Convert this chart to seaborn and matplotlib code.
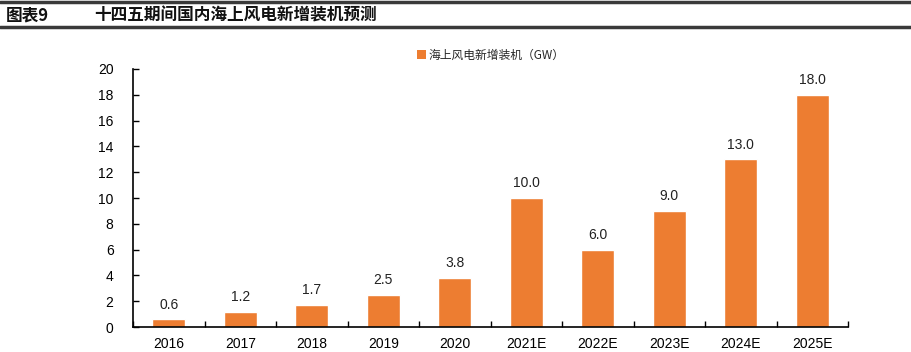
import matplotlib
matplotlib.use("Agg")
import matplotlib.pyplot as plt
from matplotlib.lines import Line2D
from matplotlib.patches import Patch
import seaborn as sns
import pandas as pd
import numpy as np

years = ["2016", "2017", "2018", "2019", "2020", "2021E", "2022E", "2023E", "2024E", "2025E"]
values = [0.6, 1.2, 1.7, 2.5, 3.8, 10.0, 6.0, 9.0, 13.0, 18.0]
labels = ["0.6", "1.2", "1.7", "2.5", "3.8", "10.0", "6.0", "9.0", "13.0", "18.0"]
series_name = "海上风电新增装机（GW）"
title_left = "图表9"
title_right = "十四五期间国内海上风电新增装机预测"

sns.set_theme(style="white")
plt.rcParams['font.family'] = ['Noto Sans CJK SC', 'DejaVu Sans']

df = pd.DataFrame({"year": years, "value": values})
color = "#ED7D31"

fig = plt.figure(figsize=(9.11, 3.52), dpi=100)
ax = fig.add_axes([0.146, 0.071, 0.785, 0.733])
sns.barplot(data=df, x="year", y="value", color=color, width=0.46, ax=ax, saturation=1)

ax.set_ylim(0, 20)
ax.set_xlim(-0.5, len(years) - 0.5)
ax.set_yticks(range(0, 21, 2))
ax.set_xlabel("")
ax.set_ylabel("")
for s in ["top", "right"]:
    ax.spines[s].set_visible(False)
for s in ["left", "bottom"]:
    ax.spines[s].set_color("black")
    ax.spines[s].set_linewidth(1.2)
ax.tick_params(axis="y", left=True, direction="in", length=4, width=1, colors="black", labelsize=10, pad=14)
ax.tick_params(axis="x", which="major", bottom=True, length=0, labelsize=10, pad=7, colors="black")
ax.set_xticks(np.arange(-0.5, len(years), 1.0), minor=True)
ax.tick_params(axis="x", which="minor", bottom=True, direction="in", length=4, width=1, colors="black")
for lab in ax.get_xticklabels() + ax.get_yticklabels():
    lab.set_fontfamily(["Liberation Sans", "DejaVu Sans"])

for i, (v, t) in enumerate(zip(values, labels)):
    ax.text(i, v + 0.6, t, ha="center", va="bottom", fontsize=10, color="#222222",
            fontfamily=["Liberation Sans", "DejaVu Sans"])

handle = Patch(facecolor=color, edgecolor="none")
ax.legend([handle], [series_name], loc="center", bbox_to_anchor=(0.5, 1.054),
          frameon=False, fontsize=8.5, handlelength=0.8, handleheight=0.8, handletextpad=0.2,
          borderpad=0)

# title bar
fig.add_artist(Line2D([0, 1], [0.995, 0.995], color="#3a3a3a", lw=2.5, transform=fig.transFigure))
fig.add_artist(Line2D([0, 1], [0.922, 0.922], color="#3a3a3a", lw=2.5, transform=fig.transFigure))
fig.text(0.006, 0.957, title_left, fontsize=12, fontweight="bold", va="center", ha="left", color="#111111")
fig.text(0.103, 0.957, title_right, fontsize=12, fontweight="bold", va="center", ha="left", color="#111111")

fig.savefig("out.png", dpi=100)
